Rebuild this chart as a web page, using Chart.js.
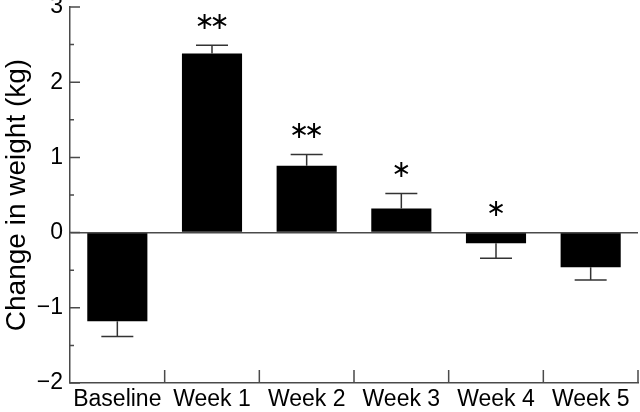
<!DOCTYPE html>
<html>
<head>
<meta charset="utf-8">
<script src="https://cdn.jsdelivr.net/npm/chart.js@4"></script>
<style>
  html, body { margin: 0; padding: 0; background: #fff; }
  .chart-container { position: relative; width: 640px; height: 412px; }
</style>
</head>
<body>
<div class="chart-container"><canvas id="myChart"></canvas></div>
<script>
// values
const categories = ["Baseline", "Week 1", "Week 2", "Week 3", "Week 4", "Week 5"];
const change_kg = [-1.18, 2.38, 0.89, 0.32, -0.14, -0.46];
const error_kg = [0.20, 0.11, 0.15, 0.20, 0.20, 0.17];
const stars = ["", "**", "**", "*", "*", ""];

const axis_color = '#4a4a4a';
const font_family = "'Liberation Sans', Arial, sans-serif";

// error bars, asterisks, inward tick marks
const extras = {
    id: 'extras',
    afterDatasetsDraw(chart) {
        const ctx = chart.ctx;
        const x = chart.scales.x;
        const y = chart.scales.y;
        const area = chart.chartArea;
        const meta = chart.getDatasetMeta(0);

        ctx.save();
        ctx.strokeStyle = '#333';
        ctx.lineWidth = 1.5;
        meta.data.forEach((bar, i) => {
            let v = change_kg[i];
            let end = v >= 0 ? v + error_kg[i] : v - error_kg[i];
            let py0 = y.getPixelForValue(v);
            let py1 = y.getPixelForValue(end);
            ctx.beginPath();
            ctx.moveTo(bar.x, py0);
            ctx.lineTo(bar.x, py1);
            ctx.moveTo(bar.x - 16, py1);
            ctx.lineTo(bar.x + 16, py1);
            ctx.stroke();

            // asterisks
            let n = stars[i].length;
            if (n > 0) {
                let top = v >= 0 ? y.getPixelForValue(v + error_kg[i]) : y.getPixelForValue(0);
                ctx.fillStyle = '#000';
                ctx.font = "24px 'DejaVu Sans'";
                ctx.textAlign = 'center';
                ctx.textBaseline = 'middle';
                for (let j = 0; j < n; j++) {
                    ctx.fillText('\u2217', bar.x + (j - (n - 1) / 2) * 15, top - 23);
                }
            }
        });

        // inward ticks
        ctx.strokeStyle = axis_color;
        ctx.lineWidth = 1.5;
        ctx.beginPath();
        y.ticks.forEach(t => {
            let py = y.getPixelForValue(t.value);
            let len = Number.isInteger(t.value) ? 10 : 4;
            ctx.moveTo(area.left, py);
            ctx.lineTo(area.left + len, py);
        });
        for (let i = 0; i < categories.length; i++) {
            let px = x.getPixelForValue(i + 0.5);
            ctx.moveTo(px, area.bottom);
            ctx.lineTo(px, area.bottom - 13);
        }
        ctx.stroke();
        ctx.restore();
    }
};

const ctx = document.getElementById('myChart').getContext('2d');
const chart = new Chart(ctx, {
    type: 'bar',
    data: {
        labels: categories,
        datasets: [{
            data: change_kg,
            backgroundColor: '#000',
            borderWidth: 0,
            barPercentage: 0.635,
            categoryPercentage: 1
        }]
    },
    options: {
        responsive: true,
        maintainAspectRatio: false,
        animation: false,
        layout: { padding: { top: 7, right: 2, left: 0, bottom: 0 } },
        plugins: {
            legend: { display: false },
            tooltip: { enabled: false }
        },
        scales: {
            x: {
                grid: { display: false, drawTicks: false },
                border: { display: true, color: axis_color, width: 1.5 },
                ticks: {
                    color: '#000',
                    padding: 3,
                    font: { family: font_family, size: 23 },
                    maxRotation: 0,
                    autoSkip: false
                },
                afterFit(scale) {
                    scale.height = 29;
                    scale.paddingLeft = 0;
                    scale.paddingRight = 0;
                }
            },
            y: {
                min: -2,
                max: 3,
                grid: {
                    drawTicks: false,
                    color: c => (c.tick && c.tick.value === 0) ? axis_color : 'rgba(0,0,0,0)',
                    lineWidth: 1.5
                },
                border: { display: true, color: axis_color, width: 1.5 },
                ticks: {
                    stepSize: 0.5,
                    color: '#000',
                    padding: 7,
                    font: { family: font_family, size: 23 },
                    callback: v => Number.isInteger(v) ? String(v).replace('-', '\u2212') : ''
                },
                title: {
                    display: true,
                    text: 'Change in weight (kg)',
                    color: '#000',
                    padding: 0,
                    font: { family: font_family, size: 28 }
                },
                afterFit(scale) {
                    scale.width = 70;
                    scale.paddingTop = 0;
                    scale.paddingBottom = 0;
                }
            }
        }
    },
    plugins: [extras]
});
</script>
</body>
</html>
